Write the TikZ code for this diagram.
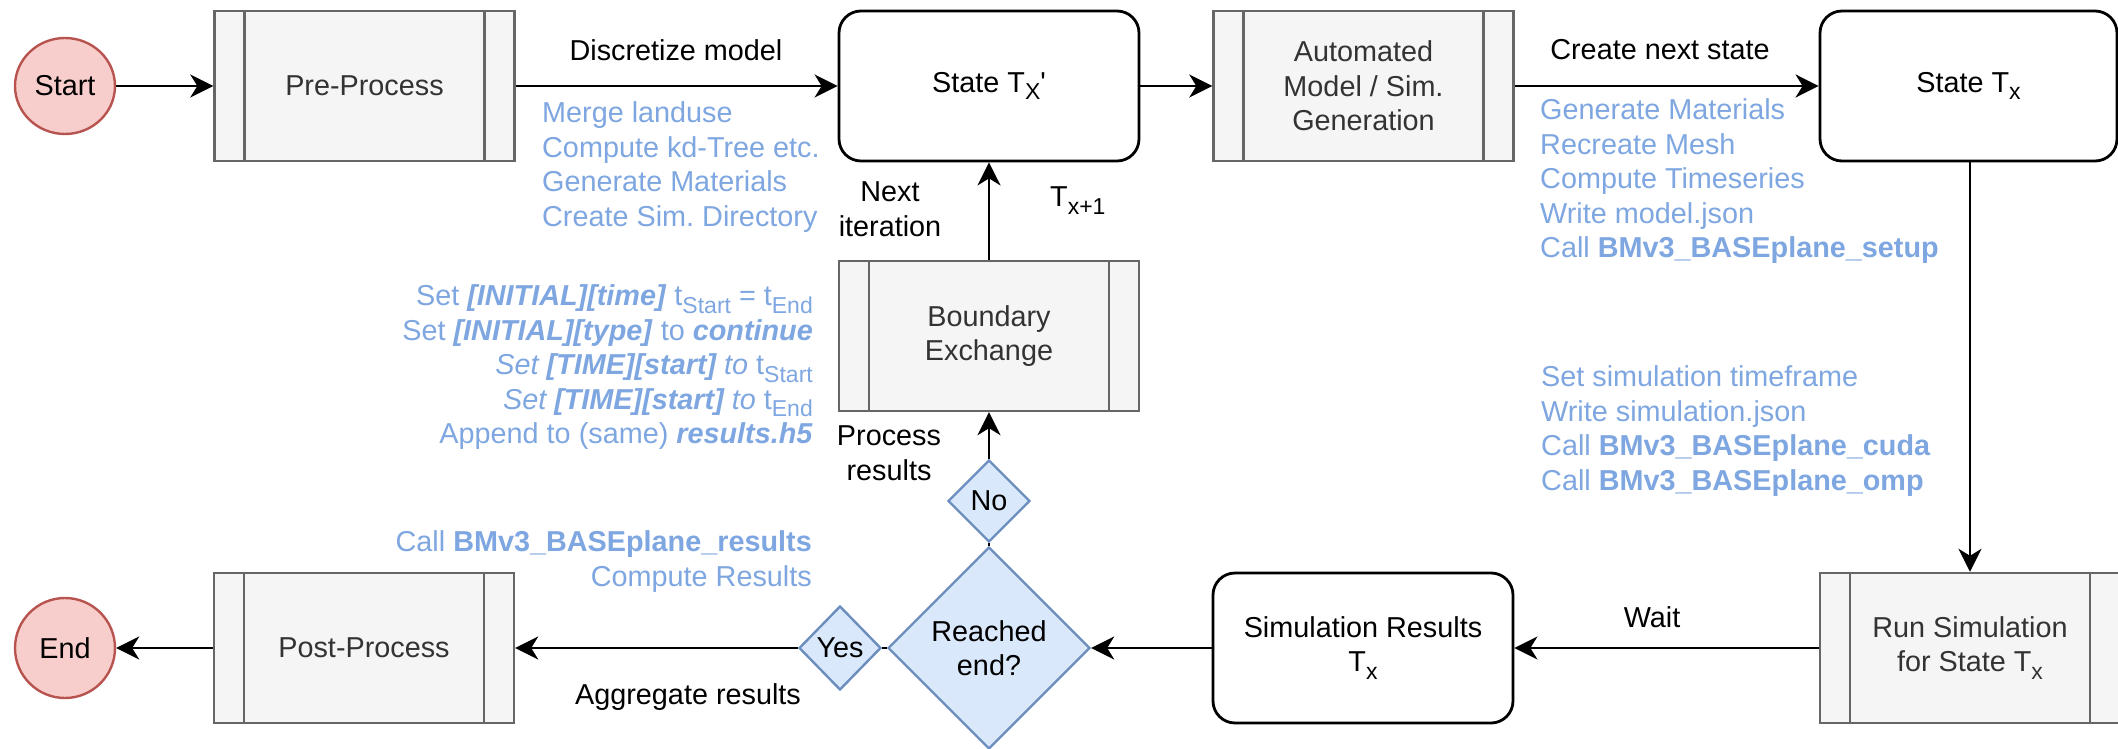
\documentclass[tikz,border=0pt]{standalone}
\usepackage{fontspec}
\setmainfont{Liberation Sans}
\usetikzlibrary{arrows.meta,shapes.geometric}
\frenchspacing
\definecolor{bluetxt}{HTML}{7EA6E0}
\definecolor{grayfill}{HTML}{F5F5F5}
\definecolor{grayline}{HTML}{666666}
\definecolor{graytxt}{HTML}{333333}
\definecolor{redfill}{HTML}{F8CECC}
\definecolor{redline}{HTML}{B85450}
\definecolor{bluefill}{HTML}{DAE8FC}
\definecolor{blueline}{HTML}{6C8EBF}
\newcommand\mysub[1]{\raisebox{-7.5pt}{\fontsize{23}{23}\selectfont #1}}
\tikzset{
  basefont/.style={font=\fontsize{28.8}{34.56}\selectfont\frenchspacing},
  procbox/.style={draw=grayline, fill=grayfill, line width=2.4pt,
    minimum width=300pt, minimum height=150pt, inner sep=0pt,
    text=graytxt, align=center, basefont,
    path picture={\draw[grayline,line width=2.4pt]
      ([xshift=30pt]path picture bounding box.north west) -- ([xshift=30pt]path picture bounding box.south west)
      ([xshift=-30pt]path picture bounding box.north east) -- ([xshift=-30pt]path picture bounding box.south east);}},
  statebox/.style={draw=black, fill=white, line width=2.8pt, rounded corners=22pt,
    minimum width=300pt, minimum height=150pt, inner sep=0pt, align=center, basefont},
  terminal/.style={ellipse, draw=redline, fill=redfill, line width=2.4pt,
    minimum width=100pt, minimum height=96pt, inner sep=0pt, basefont},
  decision/.style={diamond, draw=blueline, fill=bluefill, line width=2.4pt,
    inner sep=0pt, align=center, basefont},
  flow/.style={draw=black, line width=2.7pt, -{Stealth[length=23pt,width=23pt,inset=7pt]}},
  joint/.style={draw=black, line width=2.7pt},
  lbl/.style={basefont, inner sep=0pt, align=center, text=black},
  note/.style={basefont, inner sep=0pt, text=bluetxt},
}
\begin{document}
\begin{tikzpicture}[x=1pt,y=-1pt]
\useasboundingbox (0,0) rectangle (2118,749);
% nodes
\node[terminal] (start) at (65,86) {Start};
\node[procbox] (pre) at (364.5,86) {Pre-Process};
\node[statebox] (sxp) at (989,86) {State T\mysub{X}\textquotesingle};
\node[procbox] (auto) at (1363.5,86) {Automated\\Model / Sim.\\Generation};
\node[statebox, minimum width=297pt] (sx) at (1968.5,86) {State T\mysub{x}};
\node[procbox] (bex) at (989,336) {Boundary\\Exchange};
\node[procbox] (run) at (1970,648) {Run Simulation\\for State T\mysub{x}};
\node[statebox] (res) at (1363,648) {Simulation Results\\T\mysub{x}};
\node[decision, minimum width=202pt, minimum height=202pt] (reach) at (989,648) {Reached\\end?};
\node[decision, minimum width=82pt, minimum height=84pt] (yes) at (840,648) {Yes};
\node[decision, minimum width=82pt, minimum height=82pt] (no) at (989,501) {No};
\node[procbox] (post) at (364,648) {Post-Process};
\node[terminal, minimum height=100pt] (end) at (65,648) {End};
% connectors
\draw[flow] (start) -- (pre);
\draw[flow] (pre) -- (sxp);
\draw[flow] (sxp) -- (auto);
\draw[flow] (auto) -- (sx);
\draw[flow] (sx.south -| run.north) -- (run.north);
\draw[flow] (run) -- (res);
\draw[flow] (res) -- (reach);
\draw[joint] (reach.north) -- (no.south);
\draw[joint] (reach.west) -- (yes.east);
\draw[flow] (no.north) -- (bex.south);
\draw[flow] (bex.north) -- (sxp.south);
\draw[flow] (yes.west) -- (post.east);
\draw[flow] (post) -- (end);
% connector labels
\node[lbl] (l1) at (676,50) {Discretize model};
\node[lbl] (l2) at (1660,50) {Create next state};
\node[lbl] (l3) at (1652,617) {Wait};
\node[lbl] (l4) at (688,697) {Aggregate results};
\node[lbl] (l5) at (890,209) {Next\\iteration};
\node[lbl, anchor=mid west] (l6) at (1050,204) {T\mysub{x+1}};
\node[lbl] (l7) at (889,453) {Process\\results};
% notes block 1
\node[note, anchor=mid west] (n1a) at (542,120) {Merge landuse};
\node[note, anchor=mid west] (n1b) at (542,154.5) {Compute kd-Tree etc.};
\node[note, anchor=mid west] (n1c) at (542,189) {Generate Materials};
\node[note, anchor=mid west] (n1d) at (542,223.7) {Create Sim. Directory};
% notes block 2
\node[note, anchor=mid west] (n2a) at (1540,117) {Generate Materials};
\node[note, anchor=mid west] (n2b) at (1540,151.6) {Recreate Mesh};
\node[note, anchor=mid west] (n2c) at (1540,186) {Compute Timeseries};
\node[note, anchor=mid west] (n2d) at (1540,220.7) {Write model.json};
\node[note, anchor=mid west] (n2e) at (1540,255.3) {Call \textbf{BMv3\_BASEplane\_setup}};
% notes block 3
\node[note, anchor=mid west] (n3a) at (1541,384) {Set simulation timeframe};
\node[note, anchor=mid west] (n3b) at (1541,418.6) {Write simulation.json};
\node[note, anchor=mid west] (n3c) at (1541,453) {Call \textbf{BMv3\_BASEplane\_cuda}};
\node[note, anchor=mid west] (n3d) at (1541,487.7) {Call \textbf{BMv3\_BASEplane\_omp}};
% notes block 4
\node[note, anchor=mid east] (n4a) at (813,303) {Set \textbf{\textit{[INITIAL][time]}} t\mysub{Start} = t\mysub{End}};
\node[note, anchor=mid east] (n4b) at (813,337.6) {Set \textbf{\textit{[INITIAL][type]}} to \textbf{\textit{continue}}};
\node[note, anchor=mid east] (n4c) at (813,372) {\textit{Set \textbf{[TIME][start]} to} t\mysub{Start}};
\node[note, anchor=mid east] (n4d) at (813,406.7) {\textit{Set \textbf{[TIME][start]} to} t\mysub{End}};
\node[note, anchor=mid east] (n4e) at (813,441) {Append to (same) \textbf{\textit{results.h5}}};
% notes block 5
\node[note, anchor=mid east] (n5a) at (812,549) {Call \textbf{BMv3\_BASEplane\_results}};
\node[note, anchor=mid east] (n5b) at (812,584) {Compute Results};
\end{tikzpicture}
\end{document}
